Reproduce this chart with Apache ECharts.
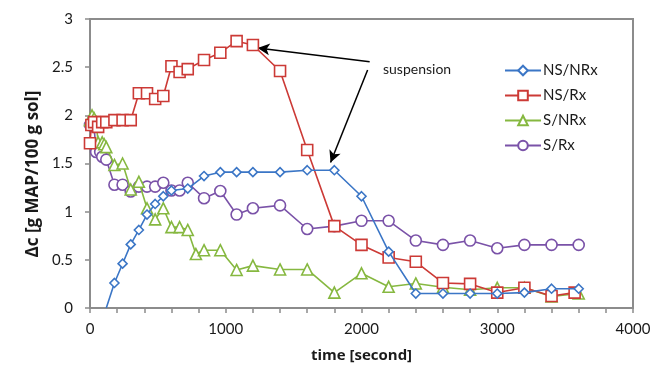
<!DOCTYPE html>
<html>
<head>
<meta charset="utf-8">
<script src="https://cdn.jsdelivr.net/npm/echarts@6/dist/echarts.min.js"></script>
<style>html,body{margin:0;padding:0;background:#fff}#c{width:652px;height:366px}</style>
</head>
<body>
<div id="c"></div>
<script>
// ---- data ----
var seriesNames = ['NS/NRx', 'NS/Rx', 'S/NRx', 'S/Rx'];
var nsNRx = [[120,0],[180,0.26],[240,0.46],[300,0.66],[360,0.81],[420,0.97],[480,1.08],[540,1.16],[600,1.22],[720,1.24],[840,1.37],[960,1.41],[1080,1.41],[1200,1.41],[1400,1.41],[1600,1.43],[1800,1.43],[2000,1.16],[2200,0.585],[2400,0.15],[2600,0.15],[2800,0.15],[3000,0.15],[3200,0.16],[3400,0.2],[3600,0.2]];
var nsRx = [[0,1.71],[10,1.90],[30,1.93],[60,1.88],[90,1.93],[120,1.93],[180,1.95],[240,1.95],[300,1.95],[360,2.23],[420,2.23],[480,2.17],[540,2.20],[600,2.51],[660,2.45],[720,2.48],[840,2.575],[960,2.65],[1080,2.77],[1200,2.73],[1400,2.46],[1600,1.64],[1800,0.85],[2000,0.655],[2200,0.525],[2400,0.48],[2600,0.26],[2800,0.25],[3000,0.16],[3200,0.21],[3400,0.125],[3570,0.16]];
var sNRx = [[0,1.95],[15,2.0],[30,1.97],[45,1.93],[60,1.72],[90,1.72],[105,1.70],[120,1.67],[180,1.485],[240,1.50],[300,1.23],[360,1.31],[420,1.035],[480,0.92],[540,1.035],[600,0.84],[660,0.84],[720,0.81],[780,0.56],[840,0.60],[960,0.60],[1080,0.395],[1200,0.44],[1400,0.40],[1600,0.40],[1800,0.16],[2000,0.36],[2200,0.22],[2400,0.255],[2600,0.215],[2800,0.19],[3000,0.21],[3200,0.21],[3400,0.12],[3600,0.15]];
var sRx = [[0,1.90],[15,1.93],[30,1.88],[45,1.62],[75,1.62],[90,1.57],[120,1.54],[180,1.28],[240,1.28],[300,1.21],[360,1.26],[420,1.26],[480,1.26],[540,1.30],[600,1.22],[660,1.22],[720,1.30],[840,1.14],[960,1.215],[1080,0.97],[1200,1.035],[1400,1.065],[1600,0.82],[1800,0.85],[2000,0.905],[2200,0.905],[2400,0.70],[2600,0.655],[2800,0.70],[3000,0.62],[3200,0.655],[3400,0.655],[3600,0.655]];
var annotationText = 'suspension';
var arrowFrom1 = [2060, 2.555], arrowTo1 = [1235, 2.70];
var arrowFrom2 = [2045, 2.47], arrowTo2 = [1772, 1.51];
var xTitle = 'time [second]';
var yTitle = 'Δc [g MAP/100 g sol]';

// ---- styles ----
var colors = ['#3B76C6', '#CC3A36', '#86B840', '#7A52A8'];
var symbols = ['diamond', 'rect', 'triangle', 'circle'];
var sizes = [9, 11, 11, 11];
var allData = [nsNRx, nsRx, sNRx, sRx];
var FONT = 'Lato, "Open Sans", sans-serif';
var TFONT = '"Open Sans", Lato, sans-serif';

var series = allData.map(function (d, i) {
  var s = {
    name: seriesNames[i],
    type: 'line',
    data: d.map(function (p) {
      var item = { value: p };
      if (p[1] === 0) item.symbol = 'none';
      return item;
    }),
    symbol: symbols[i],
    symbolSize: sizes[i],
    showAllSymbol: true,
    clip: true,
    z: 10 - i,
    lineStyle: { color: colors[i], width: 1.6 },
    itemStyle: { color: '#fff', borderColor: colors[i], borderWidth: 1.6 }
  };
  if (i === 1) {
    s.markLine = {
      silent: true,
      symbol: ['none', 'arrow'],
      symbolSize: [9, 12],
      label: { show: false },
      lineStyle: { color: '#000', width: 1.5, type: 'solid' },
      data: [
        [{ coord: arrowFrom1 }, { coord: arrowTo1 }],
        [{ coord: arrowFrom2 }, { coord: arrowTo2 }]
      ]
    };
  }
  return s;
});

var chart = echarts.init(document.getElementById('c'), null, { renderer: 'canvas' });
chart.setOption({
  animation: false,
  backgroundColor: '#fff',
  grid: { left: 90, right: 19, top: 19, bottom: 58, containLabel: false, outerBoundsMode: 'none',
    show: true, borderColor: '#8c8c8c', borderWidth: 2, backgroundColor: 'transparent' },
  xAxis: {
    type: 'value', min: 0, max: 4000, interval: 200,
    name: xTitle, nameLocation: 'middle', nameGap: 40,
    nameTextStyle: { fontFamily: TFONT, fontWeight: 'bold', fontSize: 15, color: '#1a1a1a' },
    axisLine: { show: true, lineStyle: { color: '#8c8c8c', width: 2 } },
    axisTick: { show: true, inside: false, length: 5, lineStyle: { color: '#8c8c8c', width: 1.5 } },
    axisLabel: { fontFamily: FONT, fontSize: 15, color: '#1a1a1a', margin: 14,
      formatter: function (v) { return v % 1000 === 0 ? String(v) : ''; } },
    splitLine: { show: false }
  },
  yAxis: {
    type: 'value', min: 0, max: 3, interval: 0.5,
    axisLine: { show: true, lineStyle: { color: '#8c8c8c', width: 2 } },
    axisTick: { show: true, inside: false, length: 5, lineStyle: { color: '#8c8c8c', width: 1.5 } },
    axisLabel: { fontFamily: FONT, fontSize: 15, color: '#1a1a1a', margin: 17 },
    splitLine: { show: false }
  },
  legend: {
    orient: 'vertical', left: 499, top: 58, itemGap: 10,
    itemWidth: 36, itemHeight: 12,
    textStyle: { fontFamily: FONT, fontSize: 15, color: '#1a1a1a', padding: [0, 0, 0, -3] },
    data: seriesNames
  },
  graphic: [{
    type: 'text', left: 383, top: 62,
    style: { text: annotationText, font: '14px ' + FONT, fill: '#1a1a1a' }
  }, {
    type: 'text', x: 33, y: 174, rotation: Math.PI / 2,
    style: { text: yTitle, font: 'bold 17px ' + TFONT, fill: '#1a1a1a', align: 'center', verticalAlign: 'middle' }
  }],
  series: series
});
</script>
</body>
</html>
